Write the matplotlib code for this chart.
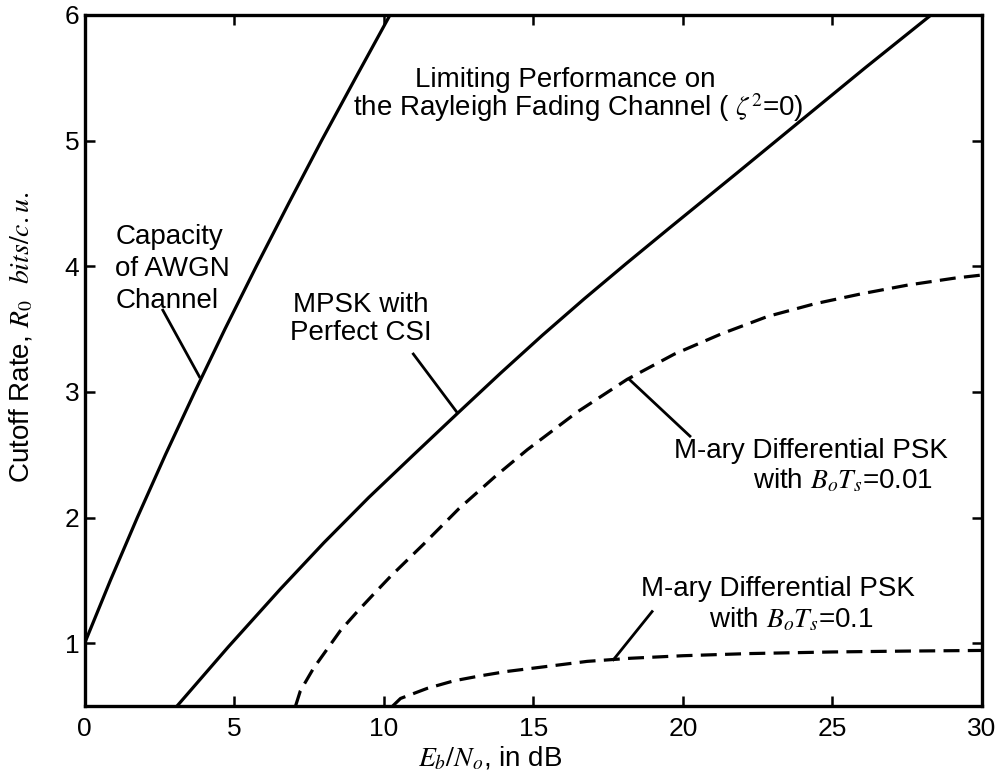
import matplotlib
matplotlib.use("Agg")
import matplotlib.pyplot as plt

plt.rcParams['font.family'] = ['Liberation Sans', 'DejaVu Sans']
plt.rcParams['mathtext.fontset'] = 'stix'

# Cutoff rate R0 (bits/c.u.) against Eb/No (dB)
awgn_snr = [0.0, 0.86, 1.76, 2.70, 3.68, 4.69, 5.74, 6.82, 7.92, 9.06, 10.21]
awgn_rate = [1.0, 1.5, 2.0, 2.5, 3.0, 3.5, 4.0, 4.5, 5.0, 5.5, 6.0]

mpsk_snr = [3.09, 4.8, 6.54, 8.0, 9.5, 11.0, 12.47, 13.91, 15.3, 16.7,
            18.1, 19.53, 21.8, 24.0, 26.1, 28.3]
mpsk_rate = [0.5, 0.97, 1.43, 1.80, 2.16, 2.50, 2.83, 3.15, 3.45, 3.74,
             4.02, 4.30, 4.74, 5.17, 5.58, 6.0]

dpsk001_snr = [7.05, 7.21, 7.65, 8.10, 8.55, 9.11, 9.66, 10.22, 11.34, 12.51, 13.74,
               14.80, 16.47, 18.14, 19.71, 21.27, 22.83, 24.39, 25.96, 27.52, 29.08, 30.0]
dpsk001_rate = [0.5, 0.62, 0.80, 0.95, 1.10, 1.25, 1.39, 1.53, 1.79, 2.07, 2.33,
                2.54, 2.84, 3.10, 3.30, 3.46, 3.60, 3.70, 3.78, 3.85, 3.905, 3.93]

dpsk01_snr = [10.3, 10.56, 11.45, 12.34, 13.23, 14.12, 15.8, 16.8, 18.26, 20.0, 22.2, 25.0, 27.5, 30.0]
dpsk01_rate = [0.5, 0.56, 0.64, 0.70, 0.74, 0.775, 0.825, 0.855, 0.88, 0.90, 0.917, 0.93, 0.937, 0.942]

x_ticks = [0, 5, 10, 15, 20, 25, 30]
y_ticks = [1, 2, 3, 4, 5, 6]

fig = plt.figure(figsize=(10.01, 7.73), dpi=100)
ax = fig.add_axes([0.0846, 0.0867, 0.8964, 0.894])

lw = 2.3
dash = (0, (5, 2.6))
ax.plot(awgn_snr, awgn_rate, color='black', lw=lw)
ax.plot(mpsk_snr, mpsk_rate, color='black', lw=lw)
ax.plot(dpsk001_snr, dpsk001_rate, color='black', lw=lw, linestyle=dash)
ax.plot(dpsk01_snr, dpsk01_rate, color='black', lw=lw, linestyle=dash)

# leader lines from the labels to the curves
leaders = [
    ([2.59, 3.86], [3.66, 3.11]),
    ([10.96, 12.47], [3.31, 2.83]),
    ([18.16, 20.27], [3.11, 2.64]),
    ([19.0, 17.65], [1.26, 0.86]),
]
for lx, ly in leaders:
    ax.plot(lx, ly, color='black', lw=2.0, solid_capstyle='butt')

fs = 20
ax.text(1.02, 3.98, "Capacity\nof AWGN\nChannel", fontsize=fs, ha='left', va='center',
        linespacing=1.3)
ax.text(9.22, 3.58, "MPSK with\nPerfect CSI", fontsize=fs, ha='center', va='center',
        linespacing=1.1)
ax.text(16.08, 5.48, "Limiting Performance on", fontsize=fs, ha='center', va='center')
ax.text(16.5, 5.26, r"the Rayleigh Fading Channel ( $\zeta^2$=0)", fontsize=fs,
        ha='center', va='center')
ax.text(28.87, 2.53, "M-ary Differential PSK", fontsize=fs, ha='right', va='center')
ax.text(28.37, 2.29, r"with $B_{o}T_{s}$=0.01", fontsize=fs, ha='right', va='center')
ax.text(18.6, 1.43, "M-ary Differential PSK", fontsize=fs, ha='left', va='center')
ax.text(20.87, 1.19, r"with $B_{o}T_{s}$=0.1", fontsize=fs, ha='left', va='center')

ax.set_xlim(0, 30)
ax.set_ylim(0.5, 6)
ax.set_xticks(x_ticks)
ax.set_yticks(y_ticks)
ax.tick_params(direction='in', length=7, width=1.8, labelsize=19,
               top=True, right=True)
ax.tick_params(axis='x', pad=8)
ax.tick_params(axis='y', pad=4)
for sp in ax.spines.values():
    sp.set_linewidth(2.4)

ax.set_xlabel(r"$E_b/N_o$, in dB", fontsize=fs)
ax.xaxis.set_label_coords(0.452, -0.057)
ax.set_ylabel(r"Cutoff Rate, $R_0$  $bits/c.u.$", fontsize=fs)
ax.yaxis.set_label_coords(-0.055, 0.533)

fig.savefig("out.png", dpi=100)
